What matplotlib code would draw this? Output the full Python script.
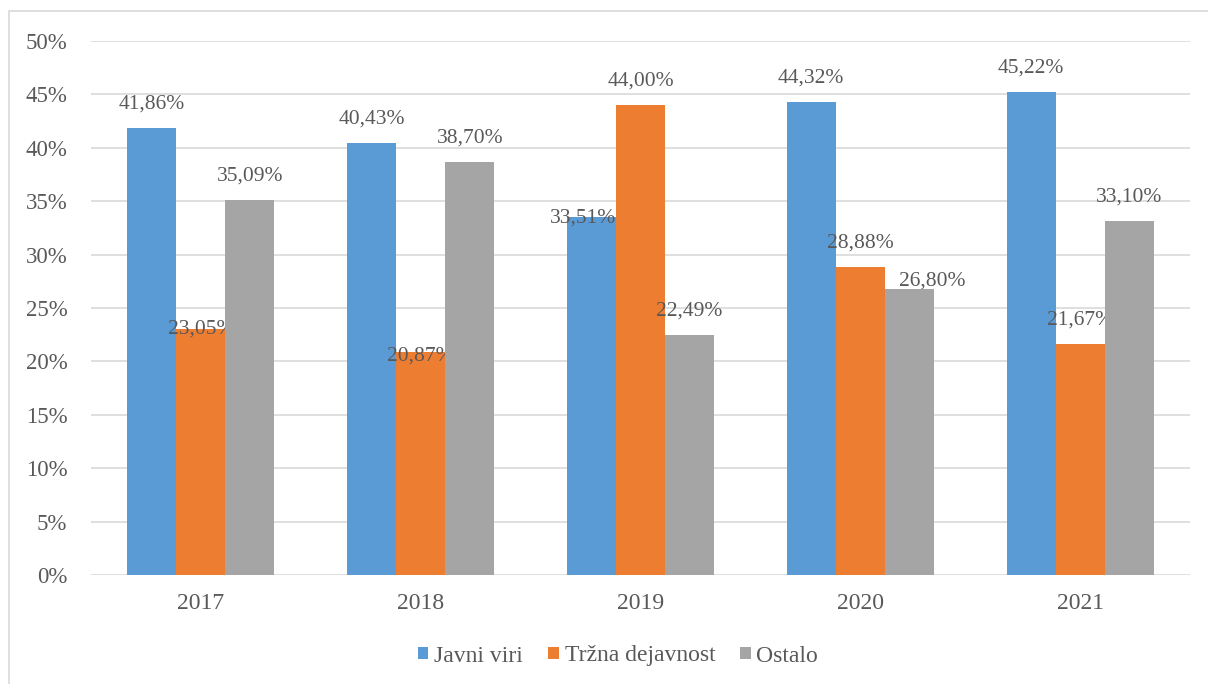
import numpy as np
import matplotlib.pyplot as plt
from matplotlib.patches import Rectangle
from matplotlib.ticker import PercentFormatter

plt.rcParams['font.family'] = ['Liberation Serif', 'DejaVu Serif']

# podatki
leta = ['2017', '2018', '2019', '2020', '2021']
javni_viri = [41.86, 40.43, 33.51, 44.32, 45.22]
trzna_dejavnost = [23.05, 20.87, 44.00, 28.88, 21.67]
ostalo = [35.09, 38.70, 22.49, 26.80, 33.10]
serije = ['Javni viri', 'Tržna dejavnost', 'Ostalo']

barve = ['#5B9BD5', '#ED7D31', '#A5A5A5']
siva_txt = '#595959'

# premiki oznak (v pikslih), kjer jih je Excel premaknil
premiki = {(1, 0): (0, -24), (1, 1): (0, -28), (0, 2): (-8, -25), (2, 3): (23, -16)}

fig = plt.figure(figsize=(12.08, 6.84), dpi=100)
fig.patches.append(Rectangle((9 / 1208, -0.1), 1.2, (684 - 11) / 684 + 0.1,
                             transform=fig.transFigure, fill=False,
                             edgecolor='#D9D9D9', linewidth=1.2))
ax = fig.add_axes([91 / 1208, (684 - 575) / 684, (1190 - 91) / 1208, (575 - 41) / 684])

x = np.arange(len(leta))
w = 0.223
for i, (ime, vals) in enumerate(zip(serije, [javni_viri, trzna_dejavnost, ostalo])):
    pos = x + (i - 1) * w
    ax.bar(pos, vals, width=w, color=barve[i], label=ime, zorder=3)
    for j, v in enumerate(vals):
        dx, dy = premiki.get((i, j), (0, 0))
        ax.annotate(('%.2f%%' % v).replace('.', ','), (pos[j], v),
                    xytext=(dx, 24 + dy), textcoords='offset pixels',
                    ha='center', va='center', fontsize=15.5, color=siva_txt)

ax.set_xlim(-0.5, len(leta) - 0.5)
ax.set_ylim(0, 50)
ax.set_yticks(np.arange(0, 51, 5))
ax.yaxis.set_major_formatter(PercentFormatter(decimals=0))
ax.set_xticks(x)
ax.set_xticklabels(leta)
ax.grid(axis='y', color='#D9D9D9', linewidth=1.2, zorder=0)
for s in ax.spines.values():
    s.set_visible(False)
ax.tick_params(axis='both', length=0, labelcolor=siva_txt)
ax.tick_params(axis='y', pad=17, labelsize=16.5)
ax.tick_params(axis='x', pad=13, labelsize=17)

fig.legend(loc='center', bbox_to_anchor=(618 / 1208, 1 - 656 / 684), ncol=3,
           frameon=False, fontsize=17, handlelength=0.45, handleheight=0.45,
           handletextpad=0.25, columnspacing=1.05, labelcolor=siva_txt)

fig.savefig('out.png', dpi=100)
